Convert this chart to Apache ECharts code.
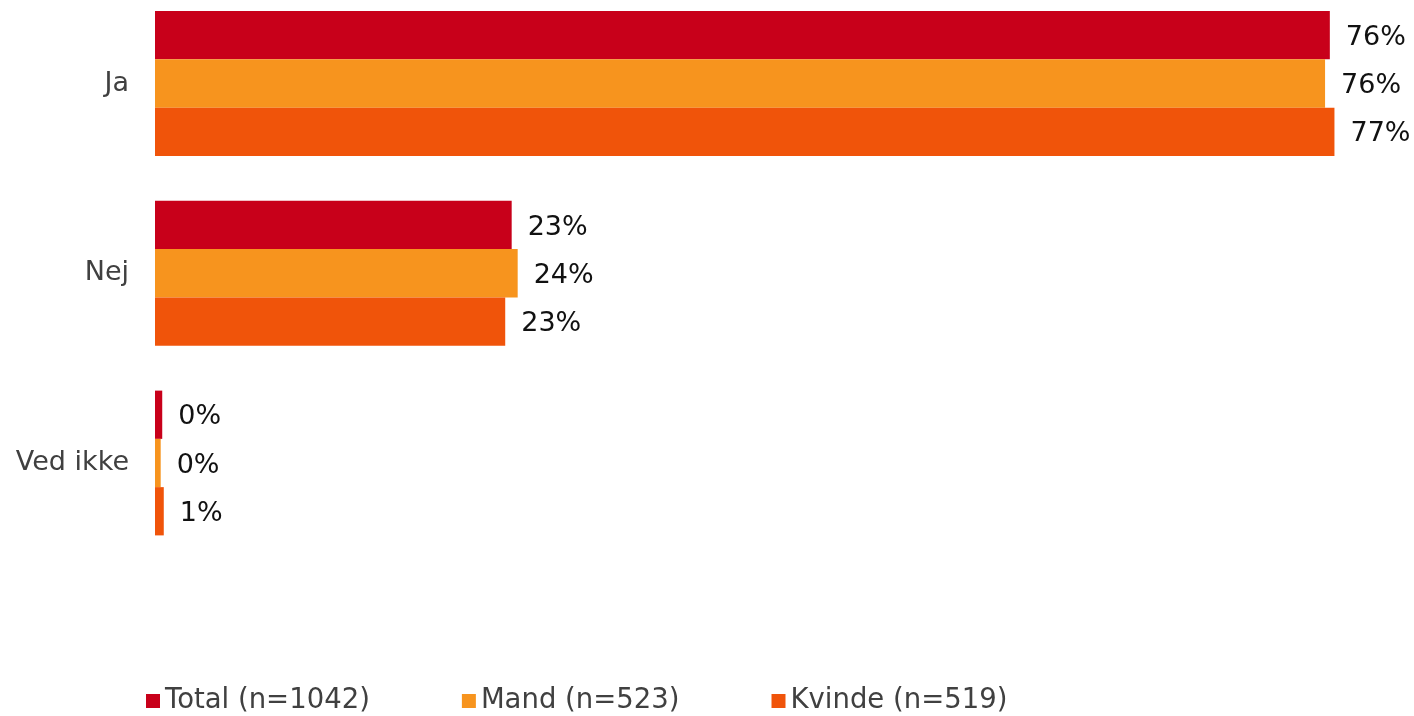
<!DOCTYPE html>
<html>
<head>
<meta charset="utf-8">
<script src="https://cdn.jsdelivr.net/npm/echarts@6/dist/echarts.min.js"></script>
<style>
  html, body { margin: 0; padding: 0; background: #fff; }
  #chart { width: 1414px; height: 716px; }
</style>
</head>
<body>
<div id="chart"></div>
<script>
const categories = ['Ja', 'Nej', 'Ved ikke'];
const seriesNames = ['Total (n=1042)', 'Mand (n=523)', 'Kvinde (n=519)'];
const totalValues = [76.35, 23.18, 0.47];
const mandValues = [76.04, 23.57, 0.37];
const kvindeValues = [76.65, 22.76, 0.57];
const colors = ['#C8001A', '#F7941E', '#F0540A'];

const chart = echarts.init(document.getElementById('chart'));

const makeSeries = (name, data, color) => ({
    name: name,
    type: 'bar',
    data: data,
    barGap: '0%',
    barCategoryGap: '23.7%',
    itemStyle: { color: color },
    label: {
        show: true,
        position: 'right',
        distance: 16,
        offset: [0, 2.5],
        color: '#111',
        fontFamily: 'DejaVu Sans',
        fontSize: 27,
        formatter: (p) => Math.round(p.value) + '%'
    },
    emphasis: { disabled: true }
});

const option = {
    animation: false,
    grid: {
        left: 155,
        top: 83.5,
        width: 1231,
        height: 379.5
    },
    legend: {
        data: seriesNames,
        left: 146,
        top: 687,
        padding: 0,
        itemWidth: 14,
        itemHeight: 14,
        itemGap: 92,
        icon: 'rect',
        textStyle: {
            color: '#404040',
            fontFamily: 'DejaVu Sans',
            fontSize: 27.5
        }
    },
    xAxis: {
        type: 'value',
        min: 0,
        max: 80,
        show: false
    },
    yAxis: {
        type: 'category',
        data: categories,
        inverse: true,
        boundaryGap: false,
        axisLine: { show: false },
        axisTick: { show: false },
        axisLabel: {
            margin: 26,
            padding: [8, 0, 0, 0],
            color: '#404040',
            fontFamily: 'DejaVu Sans',
            fontSize: 27
        }
    },
    series: [
        makeSeries(seriesNames[0], totalValues, colors[0]),
        makeSeries(seriesNames[1], mandValues, colors[1]),
        makeSeries(seriesNames[2], kvindeValues, colors[2])
    ]
};

chart.setOption(option);
</script>
</body>
</html>
